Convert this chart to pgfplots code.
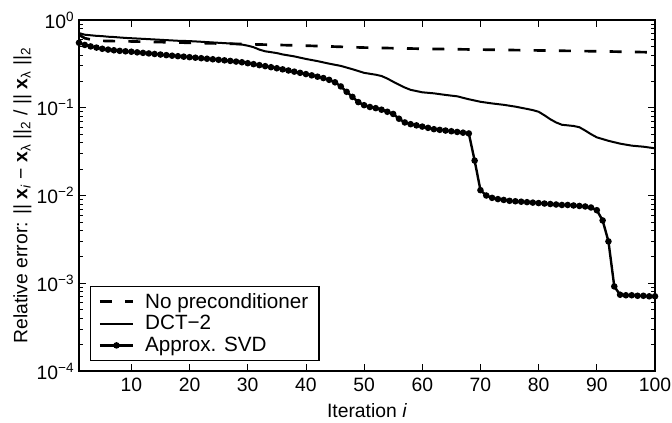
\documentclass[border=0pt]{standalone}
\usepackage{pgfplots}
\pgfplotsset{compat=1.18}
\usepackage{fontspec}
\setmainfont{Liberation Sans}
\usetikzlibrary{calc}
\begin{document}
\begin{tikzpicture}
\begin{axis}[
  scale only axis,
  width=432pt, height=263.25pt,
  ymode=log,
  xmin=1, xmax=100, ymin=1e-4, ymax=1,
  xtick={10,20,...,100},
  ytick={1e-4,1e-3,1e-2,1e-1,1},
  yticklabels={10\textsuperscript{−4},10\textsuperscript{−3},10\textsuperscript{−2},10\textsuperscript{−1},10\textsuperscript{0}},
  /pgf/number format/assume math mode=true,
  tick label style={font=\fontsize{14.5}{16}\selectfont},
  xticklabel style={yshift=-2pt},
  label style={font=\fontsize{14.5}{16}\selectfont},
  major tick length=5pt, minor tick length=3pt,
  tick style={black, line width=0.6pt},
  axis line style={line width=0.8pt},
  xlabel={Iteration \textit{i}},
  ylabel={Relative error: || \textbf{x}\textsubscript{\textit{i}} − \textbf{x}\textsubscript{λ} ||\textsubscript{2} / || \textbf{x}\textsubscript{λ} ||\textsubscript{2}},
  xlabel style={yshift=-2pt},
  ylabel style={yshift=-3pt},
  legend style={at={(0.019,0.029)}, anchor=south west, draw=black, line width=0.8pt,
    font=\fontsize{15.5}{17}\selectfont, inner xsep=6pt, inner ysep=3pt, row sep=0pt, column sep=6pt},
  legend cell align=left,
  legend image code/.code={\draw[#1, mark=none] (0cm,0cm) -- (0.88cm,0cm);
     \draw[#1, only marks] plot coordinates {(0.44cm,0cm)};},
]
\addplot[black, line width=2pt, dash pattern=on 9pt off 10pt] coordinates {
(1,0.68) (2,0.62) (4,0.58) (10,0.57) (20,0.55) (30,0.53) (40,0.51) (50,0.485)
(60,0.47) (70,0.46) (80,0.45) (90,0.44) (100,0.428)
};
\addlegendentry{No preconditioner}
\addplot[black, line width=1.5pt] coordinates {
(1,0.71) (2,0.68) (3,0.67) (4,0.66) (5,0.655) (6,0.645) (7,0.64) (8,0.632) (9,0.625) (10,0.62)
(12,0.61) (14,0.60) (16,0.59) (18,0.58) (20,0.575) (22,0.565) (24,0.555) (26,0.545) (28,0.535)
(29,0.525) (30,0.51) (31,0.49) (32,0.46) (33,0.44) (34,0.43) (35,0.42) (36,0.405) (38,0.385)
(40,0.36) (42,0.34) (44,0.318) (46,0.30) (48,0.275) (50,0.25) (52,0.238) (53,0.23) (54,0.215)
(55,0.198) (56,0.183) (57,0.17) (58,0.16) (59,0.155) (60,0.15) (62,0.146) (64,0.14) (66,0.135)
(68,0.125) (70,0.117) (72,0.112) (74,0.108) (76,0.103) (78,0.097) (79,0.094) (80,0.09)
(81,0.082) (82,0.074) (83,0.068) (84,0.064) (86,0.062) (87,0.06) (88,0.055) (89,0.05)
(90,0.046) (92,0.042) (94,0.039) (96,0.037) (98,0.036) (100,0.0345)
};
\addlegendentry{DCT−2}
\addplot[black, line width=1.8pt, mark=*, mark size=1.5pt] coordinates {
(1,0.55) (2,0.52) (3,0.50) (4,0.485) (5,0.47) (6,0.46) (7,0.452) (8,0.445) (9,0.44) (10,0.435)
(11,0.428) (12,0.422) (13,0.416) (14,0.41) (15,0.404) (16,0.398) (17,0.392) (18,0.387) (19,0.382) (20,0.377)
(21,0.372) (22,0.367) (23,0.362) (24,0.357) (25,0.352) (26,0.347) (27,0.342) (28,0.336) (29,0.33) (30,0.322)
(31,0.314) (32,0.306) (33,0.298) (34,0.29) (35,0.282) (36,0.274) (37,0.266) (38,0.258) (39,0.25) (40,0.242)
(41,0.234) (42,0.226) (43,0.218) (44,0.208) (45,0.195) (46,0.175) (47,0.152) (48,0.133) (49,0.116) (50,0.107)
(51,0.102) (52,0.099) (53,0.095) (54,0.09) (55,0.085) (56,0.075) (57,0.068) (58,0.065) (59,0.063) (60,0.061)
(61,0.059) (62,0.057) (63,0.056) (64,0.055) (65,0.054) (66,0.053) (67,0.052) (68,0.051) (69,0.025) (70,0.0115)
(71,0.0100) (72,0.0094) (73,0.0091) (74,0.0089) (75,0.0087) (76,0.0086) (77,0.0085) (78,0.0084) (79,0.0083) (80,0.0082)
(81,0.0081) (82,0.0080) (83,0.0079) (84,0.0078) (85,0.0078) (86,0.0077) (87,0.0076) (88,0.0075) (89,0.0073) (90,0.0068)
(91,0.0052) (92,0.0030) (93,0.00092) (94,0.00074) (95,0.00073) (96,0.00073) (97,0.00072) (98,0.00072) (99,0.00071) (100,0.00071)
};
\addlegendentry{Approx. SVD}
\end{axis}
\pgfresetboundingbox
\path ($(current axis.south west)+(-59.25pt,-39pt)$) rectangle ($(current axis.north east)+(12.75pt,15pt)$);
\end{tikzpicture}
\end{document}
